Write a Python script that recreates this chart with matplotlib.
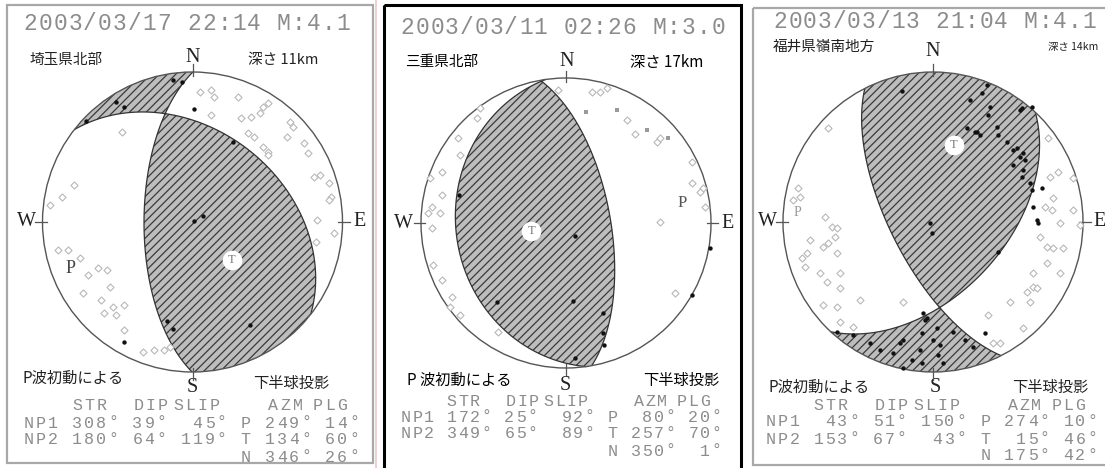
import numpy as np
import matplotlib
matplotlib.use("Agg")
import matplotlib.pyplot as plt
from matplotlib.patches import Rectangle, Circle, PathPatch

# ---------------- data ----------------
dates = ["2003/03/17 22:14 M:4.1", "2003/03/11 02:26 M:3.0", "2003/03/13 21:04 M:4.1"]
regions = ["埼玉県北部", "三重県北部", "福井県嶺南地方"]
depths_km = [11, 17, 14]

np1_str = [308, 172, 43]
np1_dip = [39, 25, 51]
np1_slip = [45, 92, 150]
np2_str = [180, 349, 153]
np2_dip = [64, 65, 67]
np2_slip = [119, 89, 43]
p_azm = [249, 80, 274]
p_plg = [14, 20, 10]
t_azm = [134, 257, 15]
t_plg = [60, 70, 46]
n_azm = [346, 350, 175]
n_plg = [26, 1, 42]

# first-motion observations in the projection circle (x east, y north, radius 1)
up1_x = [-0.127, -0.067, -0.513, -0.46, -0.713, 0.007, 0.273, 0.073, 0.007, -0.167, -0.127, 0.38, -0.46]
up1_y = [0.947, 0.933, 0.8, 0.767, 0.673, 0.753, 0.533, 0.04, 0.007, -0.66, -0.713, -0.687, -0.8]
down1_x = [0.053, 0.12, 0.14, 0.3, 0.473, 0.5, 0.453, 0.12, 0.32, 0.387, 0.653, 0.673, -0.467, 0.633,
           0.74, 0.367, 0.407, 0.473, 0.5, 0.767, 0.5, 0.853, 0.807, 0.907, 0.92, 0.907, 0.833, 0.94,
           0.82, -0.793, -0.867, -0.947, -0.9, -0.833, -0.747, -0.7, -0.633, -0.567, -0.547, -0.613,
           -0.527, -0.46, -0.727, -0.593, -0.513, -0.46, -0.327, -0.26, -0.193, -0.147]
down1_y = [0.867, 0.88, 0.833, 0.833, 0.767, 0.793, 0.727, 0.713, 0.693, 0.7, 0.667, 0.633, 0.6, 0.567,
           0.527, 0.593, 0.567, 0.5, 0.467, 0.46, 0.447, 0.313, 0.3, 0.26, 0.167, 0.147, 0.013, -0.073,
           -0.133, 0.247, 0.167, 0.113, -0.187, -0.187, -0.24, -0.353, -0.307, -0.32, -0.433, -0.52,
           -0.567, -0.553, -0.473, -0.607, -0.62, -0.72, -0.867, -0.853, -0.853, -0.833]

up2_x = [-0.738, 0.062, -0.476, 0.048, 0.255, 0.255, 0.262, 0.062, 0.993, 0.869]
up2_y = [0.193, -0.09, -0.545, -0.538, -0.621, -0.759, -0.841, -0.931, -0.172, -0.497]
weak2_x = [0.138, 0.352, 0.559, 0.703]
weak2_y = [0.766, 0.779, 0.641, 0.586]
down2_x = [-0.055, 0.179, 0.234, 0.283, 0.421, 0.476, 0.628, 0.648, -0.593, -0.614, -0.745, -0.731,
           -0.855, -0.938, -0.855, -0.924, -0.952, -0.869, -0.924, 0.869, 0.869, 0.945, 0.924, 0.959,
           0.648, 0.752, -0.855, -0.786, -0.917, -0.731, -0.8, -0.469]
down2_y = [0.917, 0.903, 0.903, 0.931, 0.71, 0.614, 0.559, 0.586, 0.793, 0.724, 0.586, 0.469,
           0.352, 0.31, 0.193, 0.11, 0.069, 0.069, -0.034, 0.421, 0.276, 0.241, 0.214, 0.11,
           0.007, -0.483, -0.393, -0.51, -0.29, -0.634, -0.579, -0.752]

up3_x = [-0.207, 0.36, 0.327, 0.247, 0.38, 0.367, 0.58, 0.66, 0.227, 0.28, 0.313, 0.293, 0.427, 0.433,
         0.493, 0.533, 0.56, 0.58, 0.613, 0.6, 0.533, 0.6, 0.593, 0.647, 0.66, 0.727, 0.667, 0.693, 0.7,
         -0.02, -0.007, 0.433, 0.593,
         -0.64, -0.533, -0.42, -0.353, -0.22, -0.2, -0.267, -0.14, -0.2, -0.073, -0.053, -0.04, -0.067,
         0.027, 0.047, -0.087, 0.033, 0.133, 0.067, 0.213, 0.267, 0.347, -0.073, 0.0]
up3_y = [0.873, 0.913, 0.86, 0.813, 0.767, 0.713, 0.747, 0.767, 0.627, 0.6, 0.58, 0.6, 0.633, 0.58,
         0.533, 0.48, 0.493, 0.433, 0.413, 0.46, 0.38, 0.347, 0.3, 0.26, 0.213, 0.227, 0.1, 0.013, -0.007,
         -0.007, -0.073, -0.2, 0.76,
         -0.733, -0.753, -0.807, -0.853, -0.807, -0.787, -0.873, -0.92, -0.973, -0.74, -0.653, -0.64, -0.607,
         -0.707, -0.82, -0.853, -0.887, -0.733, -0.94, -0.787, -0.833, -0.74, -0.94, -0.787]
down3_x = [-0.7, -0.9, -0.887, -0.933, -0.72, -0.673, -0.64, -0.653, -0.7, -0.733, -0.82, -0.64, -0.84,
           -0.853, -0.753, -0.62, -0.707, -0.62, -0.873, 0.767, 0.833, 0.78, 0.933, 0.8, 0.747, 0.793,
           0.933, 0.847, 0.98, 0.713, 0.76, 0.8, 0.867, 0.76, 0.667, 0.847, 0.667, 0.627, 0.693, -0.733,
           -0.64, -0.62, -0.533, -0.487, 0.367, 0.4, 0.447, 0.6, 0.647, 0.513, -0.2]
down3_y = [0.627, 0.227, 0.167, 0.147, 0.033, -0.033, -0.04, -0.1, -0.14, -0.167, -0.12, -0.207, -0.207,
           -0.3, -0.34, -0.34, -0.4, -0.44, -0.24, 0.56, 0.333, 0.3, 0.293, 0.16, 0.1, 0.08,
           0.08, -0.007, -0.02, -0.1, -0.167, -0.173, -0.173, -0.273, -0.34, -0.34, -0.433, -0.467, -0.44, -0.553,
           -0.567, -0.667, -0.7, -0.52, -0.62, -0.807, -0.807, -0.707, -0.533, -0.533, -0.533]

ups_x = [up1_x, up2_x, up3_x]
ups_y = [up1_y, up2_y, up3_y]
downs_x = [down1_x, down2_x, down3_x]
downs_y = [down1_y, down2_y, down3_y]

# ---------------- layout (pixels) ----------------
W, H = 1105, 468
ball_cx = [192.5, 566, 933]
ball_cy = [222, 223, 222]
ball_r = [150, 145, 150]

GRAY_TXT = "#8c8c8c"
JP = ["Noto Sans CJK JP", "DejaVu Sans"]
MONO = ["Liberation Mono", "DejaVu Sans Mono"]
SERIF = ["Liberation Serif", "DejaVu Serif"]

plt.rcParams["hatch.color"] = "#3a3a3a"
plt.rcParams["hatch.linewidth"] = 0.9

fig = plt.figure(figsize=(W / 100, H / 100), dpi=100)
ov = fig.add_axes([0, 0, 1, 1])
ov.set_xlim(0, W)
ov.set_ylim(H, 0)
ov.axis("off")

# frames
ov.add_patch(Rectangle((7, 5), 366, 458, fill=False, ec="#a8a8a8", lw=1.6))
ov.plot([376, 376], [0, H], color="#ecc8c8", lw=1.2)
ov.add_patch(Rectangle((384, 5), 357, 470, fill=False, ec="black", lw=2.2))
ov.add_patch(Rectangle((753, 8), 360, 457, fill=False, ec="#a8a8a8", lw=1.6))


def nodal_vectors(s, d, r):
    s, d, r = np.radians([s, d, r])
    n = np.array([-np.sin(d) * np.sin(s), np.sin(d) * np.cos(s), -np.cos(d)])
    sl = np.array([np.cos(r) * np.cos(s) + np.cos(d) * np.sin(r) * np.sin(s),
                   np.cos(r) * np.sin(s) - np.cos(d) * np.sin(r) * np.cos(s),
                   -np.sin(r) * np.sin(d)])
    return n, sl


def axis_xy(azm, plg):
    inc = np.radians(90 - plg)
    rr = np.sqrt(2) * np.sin(inc / 2)
    a = np.radians(azm)
    return rr * np.sin(a), rr * np.cos(a)


def grid_text(x0, y, s, cw, fs, color, col0=0.0):
    """Draw a string on a fixed character grid (bitmap-terminal look)."""
    for i, c in enumerate(s):
        if c != " ":
            ov.text(x0 + (col0 + i + 0.5) * cw, y, c, family=MONO, fontsize=fs, color=color,
                    ha="center", va="center")


rg = np.linspace(0, 1, 320)
tg = np.linspace(0, 2 * np.pi, 900)
R, TH = np.meshgrid(rg, tg)
X = R * np.sin(TH)
Y = R * np.cos(TH)
INC = 2 * np.arcsin(R / np.sqrt(2))
G = np.stack([np.sin(INC) * np.cos(TH), np.sin(INC) * np.sin(TH), np.cos(INC)])

for k in range(3):
    cx, cy, r = ball_cx[k], ball_cy[k], ball_r[k]
    ext = 1.2
    ax = fig.add_axes([(cx - ext * r) / W, 1 - (cy + ext * r) / H, 2 * ext * r / W, 2 * ext * r / H])
    ax.set_xlim(-ext, ext)
    ax.set_ylim(-ext, ext)
    ax.axis("off")
    ax.patch.set_alpha(0)

    n, sl = nodal_vectors(np1_str[k], np1_dip[k], np1_slip[k])
    F = np.tensordot(n, G, 1) * np.tensordot(sl, G, 1)
    cs = ax.contourf(X, Y, F, levels=[0, F.max() + 1], colors=["#bdbdbd"], antialiased=True, zorder=1)
    for path in cs.get_paths():
        ax.add_patch(PathPatch(path, fc="none", ec="#3a3a3a", lw=0, hatch="////", zorder=2))
    ax.contour(X, Y, F, levels=[0], colors="#333333", linewidths=0.9, zorder=3)
    ax.add_patch(Circle((0, 0), 1, fill=False, ec="#555555", lw=1.0, zorder=3))
    for a in (0, 90, 180, 270):
        aa = np.radians(a)
        ax.plot([0.97 * np.sin(aa), 1.05 * np.sin(aa)], [0.97 * np.cos(aa), 1.05 * np.cos(aa)],
                color="#555555", lw=0.9, zorder=3)

    ax.scatter(downs_x[k], downs_y[k], marker="D", s=13, facecolors="white", edgecolors="#b8b8b8",
               linewidths=0.8, zorder=4)
    if k == 1:
        ax.scatter(weak2_x, weak2_y, marker="s", s=6, c="#9a9a9a", lw=0, zorder=4)
    ax.scatter(ups_x[k], ups_y[k], s=10, c="#111111", lw=0, zorder=5)

    tx, ty = axis_xy(t_azm[k], t_plg[k])
    ax.scatter([tx], [ty], s=200, c="white", lw=0, zorder=6)
    ax.text(tx, ty, "T", family=SERIF, fontsize=9, color="#777777", ha="center", va="center", zorder=7)
    px, py = axis_xy(p_azm[k], p_plg[k])
    pcol = ["#444444", "#555555", "#999999"][k]
    psz = [13, 12, 10][k]
    ax.text(px, py, "P", family=SERIF, fontsize=psz, color=pcol, ha="center", va="center", zorder=7)

# ---------------- texts ----------------
title_xy = [(23, 23), (400, 27), (773, 22)]
title_cw = [14.9, 14.8, 14.7]
region_xy = [(30, 60), (405, 62), (773, 47)]
depth_xy = [(248, 60), (630, 62), (1048, 47)]
depth_fs = [10.5, 11, 7.5]
N_xy = [(193, 57), (567, 62), (933, 52)]
S_xy = [(192, 387), (565, 385), (935, 388)]
W_xy = [(26, 222), (403, 223), (767, 222)]
E_xy = [(360, 222), (728, 223), (1100, 222)]
pw_xy = [(23, 378), (407, 380), (768, 387)]
pw_txt = ["P波初動による", "P 波初動による", "P波初動による"]
lh_xy = [(253, 383), (643, 380), (1012, 387)]
tab_x0 = [23, 400, 765]
tab_cw = [12.04, 11.5, 11.9]
tab_rows = [[406, 423, 440, 457], [401, 417, 434, 451], [405, 422, 439, 456]]
txt_col = ["#222222", "#000000", "#222222"]

for k in range(3):
    grid_text(title_xy[k][0], title_xy[k][1], dates[k], title_cw[k], 16.5, GRAY_TXT)
    ov.text(*region_xy[k], regions[k], family=JP, fontsize=10.5, color=txt_col[k], ha="left", va="center")
    ov.text(*depth_xy[k], f"深さ {depths_km[k]}km", family=JP, fontsize=depth_fs[k], color=txt_col[k],
            ha="left", va="center")
    for lab, xy in (("N", N_xy), ("S", S_xy), ("W", W_xy), ("E", E_xy)):
        ov.text(*xy[k], lab, family=SERIF, fontsize=14.5, color="#222222", ha="center", va="center")
    ov.text(*pw_xy[k], pw_txt[k], family=JP, fontsize=11, color=txt_col[k], ha="left", va="center")
    ov.text(*lh_xy[k], "下半球投影", family=JP, fontsize=11, color=txt_col[k], ha="left", va="center")

    cw = tab_cw[k]
    fs = 12.0
    x0 = tab_x0[k]
    ry = tab_rows[k]
    for tok, col in (("STR", 4), ("DIP", 9.1), ("SLIP", 12.4), ("AZM", 20.3), ("PLG", 24.0)):
        grid_text(x0, ry[0], tok, cw, fs, GRAY_TXT, col0=col)
    row1 = f"NP1 {np1_str[k]:3d}° {np1_dip[k]:2d}° {np1_slip[k]:3d}° P {p_azm[k]:3d}° {p_plg[k]:2d}°"
    row2 = f"NP2 {np2_str[k]:3d}° {np2_dip[k]:2d}° {np2_slip[k]:3d}° T {t_azm[k]:3d}° {t_plg[k]:2d}°"
    row3 = " " * 18 + f"N {n_azm[k]:3d}° {n_plg[k]:2d}°"
    for s, yy in ((row1, ry[1]), (row2, ry[2]), (row3, ry[3])):
        grid_text(x0, yy, s, cw, fs, GRAY_TXT)

fig.savefig("out.png", dpi=100)
